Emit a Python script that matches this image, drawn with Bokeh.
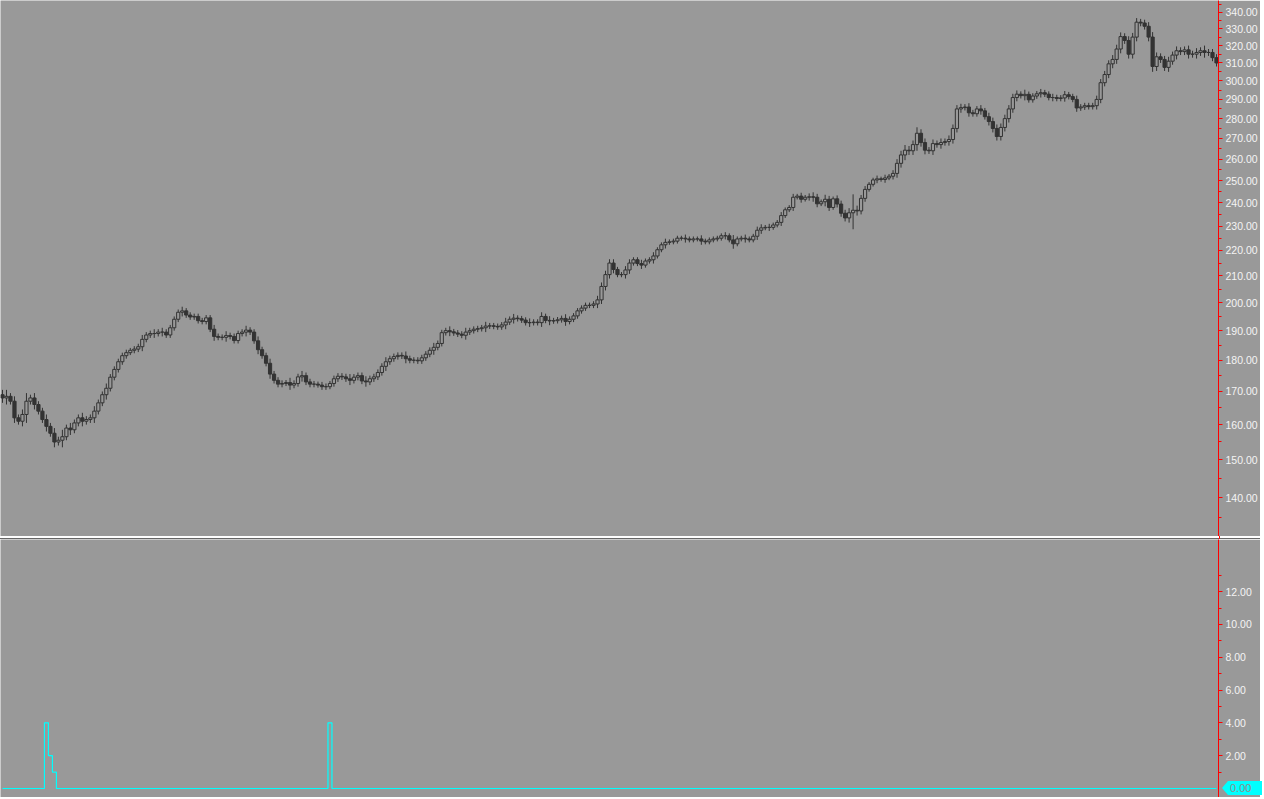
from bokeh.plotting import figure
from bokeh.models import Range1d, FixedTicker, PrintfTickFormatter, Div
from bokeh.layouts import column
from bokeh.embed import file_html
from bokeh.resources import INLINE

# ---------------- data ----------------
closes = [
    168, 168.5, 167, 162, 161, 163, 167, 168, 166, 164,
    161.5, 159.5, 157.5, 155, 155.5, 156.5, 159, 158.5, 160.5, 162,
    161, 161.5, 162, 164, 166.5, 169, 171, 174.5, 177, 179.5,
    181.5, 182.5, 183.3, 183.7, 184.5, 187, 188.5, 189, 189, 189.5,
    189.5, 188.5, 191, 194, 196.5, 197, 195.5, 194.8, 195, 193.5,
    193.2, 194.5, 190.5, 188, 187.7, 187.7, 188.3, 188, 186.6, 189,
    189.5, 190.2, 189.5, 186.5, 183.5, 181.5, 179, 175.5, 173.5, 172.3,
    172.5, 172.8, 172, 172.5, 174.6, 175, 173, 172.3, 172.3, 172,
    171.5, 171.5, 172.5, 174, 174.8, 174.6, 174, 173.5, 174.5, 175,
    173.3, 173, 174, 174.6, 176, 178, 179.5, 180.5, 181.2, 181.6,
    181.4, 180.5, 180, 180, 179.8, 180.8, 182, 183.3, 184.3, 185.6,
    189.3, 190, 189.6, 189.2, 188.8, 188.4, 189.5, 190, 190.5, 190.7,
    191, 191.6, 191.7, 191.5, 191.3, 192, 193, 194, 194.4, 194.2,
    193.7, 192.8, 192.8, 193, 192.8, 195, 193.6, 193.4, 193.5, 193.8,
    194.3, 193.2, 194, 195.2, 197, 198, 199, 199, 199.5, 201,
    206, 210.5, 215, 212.5, 210.5, 210.5, 212.3, 215, 216.3, 214.8,
    214.2, 215.8, 216.3, 217.8, 220.3, 222.3, 223.3, 223.5, 223.8, 225,
    225, 224.7, 224.3, 224.7, 224.7, 223.8, 223.5, 224.3, 224.7, 225,
    226, 226, 224.3, 222.7, 224.7, 225, 224.7, 224.3, 225.8, 228.3,
    229.3, 229.5, 229.5, 230.5, 231.6, 234.5, 237, 238, 242.5, 243,
    241.6, 242.5, 242.7, 242.5, 239.6, 240.5, 241.6, 238, 241.8, 239.5,
    235.5, 233.5, 235.7, 236.8, 236.5, 242, 246, 248.3, 250.3, 250.8,
    250.5, 251.2, 252, 253.3, 258, 262, 264.3, 264, 267, 272.6,
    268, 264.3, 264, 267.5, 267, 268, 268.5, 269.5, 275, 285,
    285.7, 286, 283, 282.5, 285, 284, 281, 278.5, 275, 271,
    275.5, 280, 285, 291, 292.8, 292, 292.7, 289.8, 291.8, 293,
    293.6, 292.8, 291, 291, 290.5, 290.8, 292.5, 291.5, 290, 285.5,
    286, 286.7, 286.2, 286.7, 290, 299, 303.5, 309.5, 312, 318,
    325.3, 323, 315, 325, 334, 333.5, 331.5, 325, 308, 313.5,
    312, 307.5, 311, 314.5, 317, 316.5, 317.5, 315, 315, 316,
    317, 316, 316, 313, 310,
]

wicks = [
    1.5, 2.0, 1.0, 1.5, 1.0, 1.5, 2.5, 1.0, 1.5, 1.0,
    1.0, 1.5, 1.0, 1.5, 1.0, 2.0, 1.0, 1.5, 1.0, 1.0,
    1.5, 1.0, 1.0, 1.5, 1.0, 1.0, 1.5, 1.0, 1.0, 1.0,
    1.0, 1.0, 0.8, 1.0, 1.0, 1.5, 1.0, 1.0, 1.5, 1.0,
    1.5, 1.0, 1.0, 1.0, 1.0, 1.5, 1.0, 1.0, 1.0, 1.0,
    1.0, 1.0, 1.0, 1.5, 1.0, 1.0, 1.5, 1.0, 1.0, 1.0,
    1.0, 1.5, 1.0, 1.0, 1.5, 1.0, 1.0, 1.5, 1.0, 1.0,
    1.0, 0.8, 1.5, 1.0, 1.0, 1.5, 1.0, 1.0, 1.0, 0.8,
    1.0, 1.0, 0.8, 1.0, 1.0, 1.0, 1.0, 1.5, 1.0, 1.0,
    1.0, 1.5, 1.0, 1.0, 1.0, 1.0, 1.5, 1.0, 1.0, 1.0,
    1.0, 1.5, 1.0, 1.0, 1.0, 1.0, 1.0, 1.0, 1.5, 1.0,
    1.0, 1.0, 1.5, 1.0, 1.0, 1.0, 1.5, 1.0, 1.0, 1.0,
    1.0, 1.5, 1.0, 1.0, 1.0, 1.0, 1.5, 1.0, 1.5, 1.0,
    1.0, 1.0, 1.5, 1.0, 1.0, 1.5, 1.0, 1.5, 1.0, 1.0,
    1.0, 1.5, 1.0, 1.0, 1.0, 1.0, 1.0, 1.0, 1.0, 1.5,
    1.5, 1.5, 1.5, 1.5, 1.0, 1.0, 1.5, 1.5, 1.0, 1.0,
    1.5, 1.0, 1.0, 1.5, 1.0, 1.0, 1.5, 1.0, 1.0, 1.0,
    1.0, 1.5, 1.0, 1.0, 1.0, 1.5, 1.0, 1.0, 1.0, 1.0,
    1.0, 1.5, 1.0, 2.0, 1.0, 1.0, 1.5, 1.0, 1.0, 1.5,
    1.5, 1.0, 1.5, 1.0, 1.0, 1.5, 1.0, 1.0, 1.5, 1.0,
    1.5, 1.0, 1.5, 2.0, 1.5, 1.0, 2.0, 1.5, 1.0, 1.5,
    1.5, 1.5, 2.0, 7.0, 2.0, 1.5, 1.5, 1.0, 1.0, 1.5,
    1.0, 1.5, 1.0, 1.5, 2.0, 2.0, 2.5, 2.0, 2.0, 3.0,
    2.0, 2.0, 1.5, 2.0, 1.5, 2.0, 1.5, 2.0, 2.0, 2.0,
    2.0, 1.5, 2.0, 1.5, 1.5, 2.0, 1.5, 2.0, 2.0, 2.0,
    2.0, 2.0, 2.0, 2.0, 2.0, 1.5, 2.5, 1.5, 1.5, 1.5,
    2.0, 1.5, 1.5, 2.0, 1.5, 1.5, 2.0, 1.5, 1.5, 2.0,
    1.5, 1.5, 1.5, 1.5, 2.0, 2.0, 2.0, 2.0, 2.5, 2.5,
    2.5, 2.0, 2.5, 2.5, 2.5, 2.0, 2.0, 2.5, 3.0, 2.5,
    2.0, 2.0, 2.5, 2.0, 2.5, 2.0, 2.0, 2.5, 2.0, 2.5,
    2.0, 3.0, 2.0, 2.0, 2.0,
]

first_open = 169.0

price_ticks = [140, 150, 160, 170, 180, 190, 200, 210, 220, 230, 240,
               250, 260, 270, 280, 290, 300, 310, 320, 330, 340]
price_minor = [135, 145, 155, 165, 175, 185, 195, 205, 215, 225, 235,
               245, 255, 265, 275, 285, 295, 305, 315, 325, 335, 345]
ind_ticks = [2, 4, 6, 8, 10, 12]
ind_minor = [1, 3, 5, 7, 9, 11, 13]

# indicator spikes: candle index -> value (zero elsewhere)
spikes = {11: 4.0, 12: 2.0, 13: 1.0, 82: 4.0}
last_value_text = "0.00"

# ---------------- derived ----------------
n = len(closes)
idx = list(range(n))
opens = [first_open] + closes[:-1]
highs = [max(o, c) + w for o, c, w in zip(opens, closes, wicks)]
lows = [min(o, c) - w for o, c, w in zip(opens, closes, wicks)]
up_i = [i for i in idx if closes[i] >= opens[i]]
dn_i = [i for i in idx if closes[i] < opens[i]]
indicator = [spikes.get(i, 0.0) for i in idx]

BG = "#999999"
CANDLE = "#333333"
AXIS_RED = "#ff0000"
FONT = "Liberation Sans"
W = 1260
AXIS_W = 40


def style_axis(ax, ticks, minor):
    ax.ticker = FixedTicker(ticks=ticks, minor_ticks=minor)
    ax.formatter = PrintfTickFormatter(format="%.2f")
    ax.axis_line_color = AXIS_RED
    ax.axis_line_width = 1
    ax.major_tick_line_color = AXIS_RED
    ax.minor_tick_line_color = AXIS_RED
    ax.major_tick_out = 4
    ax.major_tick_in = 0
    ax.minor_tick_out = 3
    ax.minor_tick_in = 0
    ax.major_label_standoff = 3
    ax.major_label_text_font = FONT
    ax.major_label_text_font_size = "10.5px"
    ax.major_label_text_color = "#f4f4f4"


common = dict(width=W, toolbar_location=None, output_backend="svg",
              y_axis_location="right", x_axis_location=None,
              background_fill_color=BG, border_fill_color=BG,
              min_border_left=0, min_border_right=AXIS_W,
              min_border_top=0, min_border_bottom=0,
              outline_line_color=None)

top = figure(height=536, y_axis_type="log",
             x_range=Range1d(-0.5, n - 0.5), y_range=Range1d(130.4, 347.5),
             **common)
top.grid.visible = False
style_axis(top.yaxis[0], price_ticks, price_minor)

top.segment(x0=idx, y0=lows, x1=idx, y1=highs, line_color=CANDLE, line_width=1)
top.vbar(x=up_i, width=0.8,
         top=[closes[i] for i in up_i], bottom=[opens[i] for i in up_i],
         fill_color=BG, line_color=CANDLE, line_width=1)
top.vbar(x=dn_i, width=0.8,
         top=[opens[i] for i in dn_i], bottom=[closes[i] for i in dn_i],
         fill_color=CANDLE, line_color=CANDLE, line_width=1)

bot = figure(height=258, x_range=top.x_range, y_range=Range1d(-0.55, 15.18),
             **common)
bot.grid.visible = False
style_axis(bot.yaxis[0], ind_ticks, ind_minor)
bot.step(idx, indicator, mode="center", line_color="#00ffff", line_width=1.2)

ax_x = W - AXIS_W  # x of the red axis line
red_cut = (f"linear-gradient(to right, {{c}} {ax_x - 1}px, {AXIS_RED} {ax_x - 1}px, "
           f"{AXIS_RED} {ax_x}px, {{c}} {ax_x}px)")
sep1 = Div(text="", width=W, height=2, margin=0,
           styles={"background": red_cut.format(c="#ffffff")})

# current-value tag of the indicator, drawn over the lower axis at value 0
tag_html = (
    '<div style="position:relative;width:0;height:0;">'
    f'<div style="position:absolute;z-index:100;left:{ax_x + 2}px;top:231px;'
    f'width:{W - ax_x}px;height:14px;line-height:14px;background:#00ffff;color:#8c8c8c;'
    f"font-family:'{FONT}';font-size:11px;text-indent:8px;white-space:nowrap;"
    'clip-path:polygon(0 50%,6px 0,100% 0,100% 100%,6px 100%);">'
    f'{last_value_text}</div></div>'
)
sep2 = Div(text=tag_html, width=W, height=1, margin=0,
           styles={"background": red_cut.format(c="#666666"), "overflow": "visible"})

layout = column(top, sep1, sep2, bot, spacing=0)

open("out.html", "w").write(file_html(layout, INLINE))
